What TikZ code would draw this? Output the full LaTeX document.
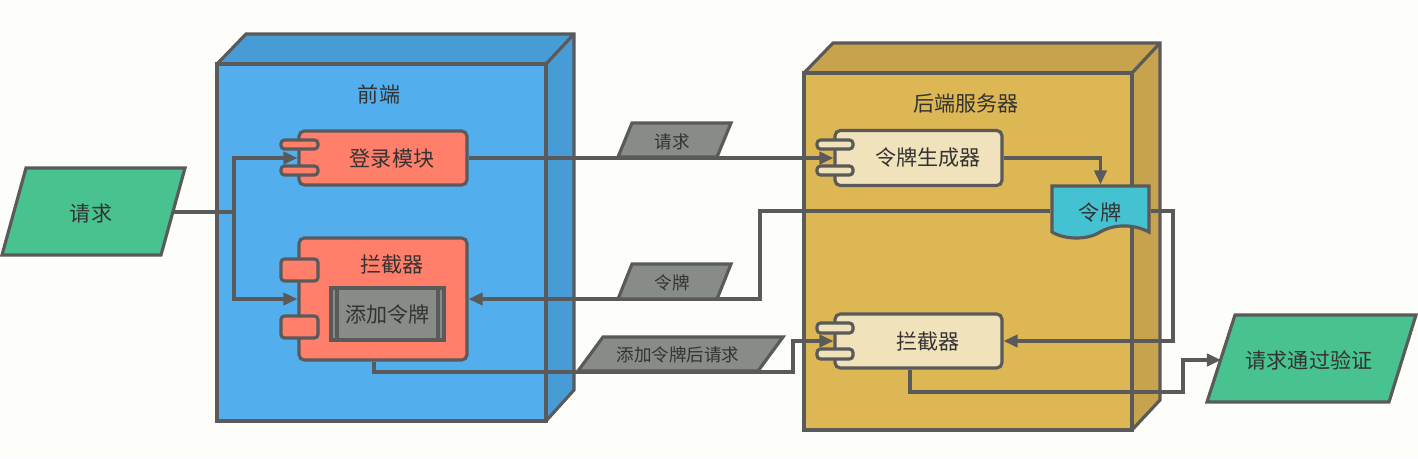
\documentclass[tikz,border=0pt]{standalone}
\usepackage{fontspec}
\setmainfont{Noto Sans CJK SC}
\usetikzlibrary{arrows.meta}

\definecolor{bgcol}{HTML}{FDFDFA}
\definecolor{linecol}{HTML}{5A5A5A}
\definecolor{txtcol}{HTML}{333333}
\definecolor{frontcol}{HTML}{52AEEC}
\definecolor{frontside}{HTML}{489CD6}
\definecolor{backcol}{HTML}{DDB753}
\definecolor{backside}{HTML}{C6A34C}
\definecolor{modcol}{HTML}{FF7F6B}
\definecolor{compcol}{HTML}{F0E2BB}
\definecolor{iocol}{HTML}{48C38F}
\definecolor{labcol}{HTML}{878C87}
\definecolor{doccol}{HTML}{45C2D2}

\begin{document}
\begin{tikzpicture}[
       x=0.02cm, y=-0.02cm,
       line width=1.8pt,
       txt/.style={
         text=txtcol,
         font=\fontsize{12}{14}\selectfont,
         inner sep=0pt
       },
       small/.style={
         text=txtcol,
         font=\fontsize{10}{12}\selectfont,
         inner sep=0pt
       },
       comp/.style={
         rectangle,
         draw=linecol,
         rounded corners=3pt,
         inner sep=0pt
       },
       tab/.style={draw=linecol, rounded corners=2pt},
       wire/.style={draw=linecol, -{Triangle[length=8pt,width=7pt]}},
       plain/.style={draw=linecol}
     ]

       \path[use as bounding box, fill=bgcol] (0,0) rectangle (1418,458);

       \draw[plain, fill=frontside] (217,64) -- (246,34) -- (574,34) -- (574,390) -- (546,421) -- (217,421) -- cycle;
       \draw[plain, fill=frontcol] (217,64) rectangle (546,421);
       \draw[plain] (546,64) -- (574,34);
       \node (front) at (379,94) [txt]{前端};

       \draw[plain, fill=backside] (804,73) -- (833,43) -- (1160,43) -- (1160,400) -- (1132,430) -- (804,430) -- cycle;
       \draw[plain, fill=backcol] (804,73) rectangle (1132,430);
       \draw[plain] (1132,73) -- (1160,43);
       \node (back) at (966,103) [txt]{后端服务器};

       \node (login) at (383,158) [comp, fill=modcol, minimum width=3.36cm, minimum height=1.08cm]{};
       \node (icpt) at (383,299) [comp, fill=modcol, minimum width=3.36cm, minimum height=2.44cm]{};
       \node (gen) at (918.5,158) [comp, fill=compcol, minimum width=3.34cm, minimum height=1.1cm]{};
       \node (icpb) at (918.5,341) [comp, fill=compcol, minimum width=3.34cm, minimum height=1.08cm]{};
       \node (token) at (1100.5,211) [minimum width=1.94cm, minimum height=1.0cm, inner sep=0pt]{};

       \coordinate (split) at (234,212);
       \coordinate (req-out) at (173,212);
       \coordinate (res-in) at (1221,360);

       \draw[plain] (req-out) -- (split);
       \draw[wire] (split) |- (login.west);
       \draw[wire] (split) |- (icpt.west);
       \draw[wire] (login.east) -- (gen.west);
       \draw[wire] (gen.east) -| (token.north);
       \draw[wire] (token.west) -- (760,211) |- (icpt.east);
       \draw[wire] (token.east) -- (1173,211) |- (icpb.east);
       \draw[wire] ([xshift=-0.18cm]icpt.south) |- (793,372) |- (icpb.west);
       \draw[wire] ([xshift=-0.17cm]icpb.south) |- (1183,392) |- (res-in);

       \draw[tab, fill=modcol] (281,140) rectangle (318,149);
       \draw[tab, fill=modcol] (281,166) rectangle (318,175);
       \node (login-t) at (392,158) [txt]{登录模块};

       \draw[tab, fill=modcol] (281,259) rectangle (318,281);
       \draw[tab, fill=modcol] (281,316) rectangle (318,338);
       \node (icpt-t) at (392,265) [txt]{拦截器};
       \node (addtok) at (387.5,314) [txt, draw=linecol, fill=labcol, minimum width=2.26cm, minimum height=1.04cm]{添加令牌};
       \draw[plain] (337,288) -- (337,340);
       \draw[plain] (438,288) -- (438,340);

       \draw[tab, fill=compcol] (817,140) rectangle (853,149);
       \draw[tab, fill=compcol] (817,166) rectangle (853,175);
       \node (gen-t) at (928,158) [txt]{令牌生成器};

       \draw[tab, fill=compcol] (817,323) rectangle (853,333);
       \draw[tab, fill=compcol] (817,349) rectangle (853,359);
       \node (icpb-t) at (928,342) [txt]{拦截器};

       \draw[plain, fill=doccol] (1052,186) -- (1149,186) -- (1149,232)
         .. controls (1130,222) and (1110,226) .. (1100,232)
         .. controls (1088,240) and (1065,240) .. (1052,232) -- cycle;
       \node (token-t) at (1100,212) [txt]{令牌};

       \draw[plain, fill=iocol] (2,255) -- (26,168) -- (185,168) -- (161,255) -- cycle;
       \node (req) at (91,213) [txt]{请求};

       \draw[plain, fill=iocol] (1207,402) -- (1235,315) -- (1416,315) -- (1389,402) -- cycle;
       \node (res) at (1309,360) [txt]{请求通过验证};

       \draw[plain, fill=labcol] (618,157) -- (632,123) -- (731,123) -- (717,157) -- cycle;
       \node (lab-req) at (672,142) [small]{请求};
       \draw[plain, fill=labcol] (618,299) -- (632,264) -- (731,264) -- (717,299) -- cycle;
       \node (lab-tok) at (672,283) [small]{令牌};
       \draw[plain, fill=labcol] (578,371) -- (603,337) -- (783,337) -- (758,371) -- cycle;
       \node (lab-add) at (678,355) [small]{添加令牌后请求};

\end{tikzpicture}
\end{document}
